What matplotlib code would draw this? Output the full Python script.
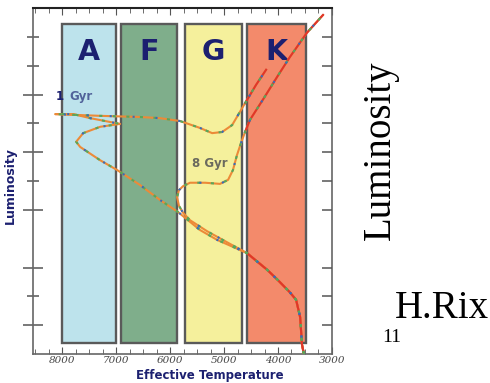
import numpy as np
import matplotlib.pyplot as plt
from matplotlib.patches import Rectangle

# spectral class bands, Teff edges in K
classes = ["A", "F", "G", "K"]
band_hot = [8000, 6900, 5720, 4580]
band_cool = [7000, 5880, 4670, 3480]
band_colors = ["#bde3ec", "#7fae8b", "#f5f09c", "#f38a6b"]
band_bottom, band_top = -1.81, 3.72

# lower main sequence shared by both isochrones
ms_teff = [3520, 3555, 3590, 3665, 3780, 4000, 4200, 4575]
ms_logl = [-2.0, -1.84, -1.36, -1.06, -0.93, -0.72, -0.54, -0.25]

# 1 Gyr isochrone above that
iso1_teff = [5130, 5445, 5850, 6185, 6555, 6980, 7295, 7665, 7740, 7610, 7295, 6925,
             7480, 7795, 8130, 7295, 6555, 6185, 5815, 5445, 5220, 5035, 4850, 4705,
             4610, 4520, 4405, 4220]
iso1_logl = [-0.02, 0.15, 0.46, 0.67, 0.93, 1.19, 1.36, 1.59, 1.68, 1.83, 1.94, 1.99,
             2.09, 2.16, 2.16, 2.13, 2.11, 2.09, 2.04, 1.92, 1.83, 1.85, 1.97, 2.20,
             2.35, 2.49, 2.67, 2.93]

# 8 Gyr isochrone above that
iso8_teff = [4890, 5315, 5630, 5760, 5835, 5870, 5835, 5760, 5630, 5350, 5075, 4925,
             4835, 4760, 4685, 4610, 4520, 4280, 4020, 3780, 3465, 3165]
iso8_logl = [-0.09, 0.13, 0.32, 0.45, 0.57, 0.72, 0.84, 0.91, 0.97, 0.97, 0.95, 1.02,
             1.19, 1.45, 1.66, 1.85, 2.06, 2.41, 2.80, 3.15, 3.57, 3.88]

temp_ticks = [8000, 7000, 6000, 5000, 4000, 3000]
temp_labels = ["8000", "7000", "6000", "5000", "4000", "3000"]
lum_major = [-1.5, -0.5, 0.5, 1.5, 2.5]
lum_minor = [-1.0, 1.0, 2.0, 3.0, 3.5]

navy = "#1c2070"

fig = plt.figure(figsize=(4.9, 3.83), dpi=100)
ax = fig.add_axes([0.0673, 0.0757, 0.6102, 0.9034])
ax.set_xlim(8540, 3000)
ax.set_ylim(-2.0, 4.0)

for name, hot, cool, col in zip(classes, band_hot, band_cool, band_colors):
    ax.add_patch(Rectangle((cool, band_bottom), hot - cool, band_top - band_bottom,
                           facecolor=col, edgecolor="#5a5a5a", lw=1.7, zorder=1))
    ax.text((hot + cool) / 2, 3.24, name, ha="center", va="center", fontsize=20.5,
            fontweight="heavy", color=navy, zorder=2)


def isochrone(teff, logl):
    t = np.array(ms_teff + teff)
    l = np.array(ms_logl + logl)
    ax.plot(t, l, color="#ec8a38", lw=1.5, zorder=3, solid_capstyle="round")
    cool = t < 4650
    ax.plot(np.where(cool, t, np.nan), l, color="#e0362a", lw=1.5, zorder=3)
    ax.plot(t, l, color="#55a85c", lw=1.5, ls=(0, (1.5, 5)), zorder=4)
    ax.plot(t, l, color="#3a6cb8", lw=1.5, ls=(3, (1, 10)), zorder=4)


isochrone(iso1_teff, iso1_logl)
isochrone(iso8_teff, iso8_logl)

ax.text(8040, 2.46, "1", ha="center", va="center", fontsize=8.5,
        fontweight="bold", color=navy, zorder=5)
ax.text(7870, 2.46, "Gyr", ha="left", va="center", fontsize=8.5,
        fontweight="bold", color="#51639a", zorder=5)
ax.text(5593, 1.31, "8 Gyr", ha="left", va="center", fontsize=8.5,
        fontweight="bold", color="#6b6a5e", zorder=5)

# axes frame and ticks
for side in ["left", "right", "bottom"]:
    ax.spines[side].set_color("#666666")
    ax.spines[side].set_linewidth(1.2)
ax.spines["top"].set_color("#222222")
ax.spines["top"].set_linewidth(1.5)

ax.set_xticks(temp_ticks)
ax.set_xticklabels(temp_labels)
ax.set_xticks(np.arange(3250, 8540, 250), minor=True)
ax.tick_params(axis="x", which="both", direction="in", top=True, color="#555555", pad=1.5)
ax.tick_params(axis="x", which="major", length=5)
ax.tick_params(axis="x", which="minor", length=3.5)
for lbl in ax.get_xticklabels():
    lbl.set_family("DejaVu Serif")
    lbl.set_style("italic")
    lbl.set_fontsize(7.5)
    lbl.set_color("#444444")

ax.set_yticks(lum_major)
ax.set_yticks(lum_minor, minor=True)
ax.set_yticklabels([])
ax.tick_params(axis="y", which="both", direction="inout", color="#555555", width=1.1)
ax.tick_params(axis="y", which="major", length=14)
ax.tick_params(axis="y", which="minor", length=9)

right = ax.twinx()
right.set_ylim(ax.get_ylim())
right.set_yticks(lum_major + lum_minor)
right.set_yticklabels([])
right.tick_params(axis="y", direction="in", length=7, color="#555555", width=1.1)
for side in right.spines.values():
    side.set_visible(False)

ax.set_xlabel("Effective Temperature", fontsize=8.5, fontweight="bold", color=navy)
ax.xaxis.set_label_coords(0.592, -0.043)
ax.set_ylabel("Luminosity", fontsize=9, fontweight="bold", color=navy)
ax.yaxis.set_label_coords(-0.054, 0.486)

fig.text(0.7755, 0.6084, "Luminosity", rotation=90, ha="center", va="center",
         family="Liberation Serif", fontsize=28)
fig.text(0.806, 0.1697, "H.Rix", ha="left", va="baseline",
         family="Liberation Serif", fontsize=28)
fig.text(0.7796, 0.107, "11", ha="left", va="baseline",
         family="Liberation Serif", fontsize=14)

fig.savefig("out.png", dpi=100)
